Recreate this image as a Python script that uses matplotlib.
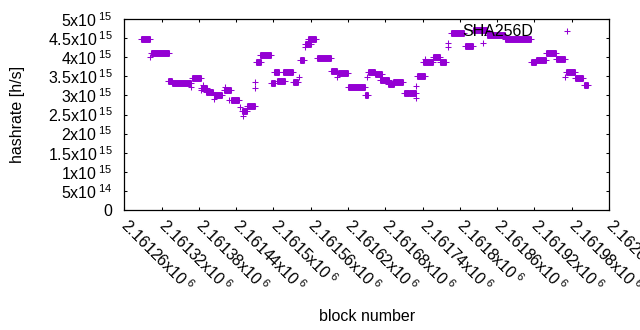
import numpy as np
import matplotlib; matplotlib.use('agg')
import matplotlib.pyplot as plt
from matplotlib.lines import Line2D

plt.rcParams['font.family'] = ['Liberation Sans', 'DejaVu Sans']
plt.rcParams['mathtext.fontset'] = 'custom'
plt.rcParams['mathtext.rm'] = 'Liberation Sans'

# runs of consecutive blocks sharing the same hashrate estimate
run_start = [2161287, 2161303, 2161330, 2161337, 2161369, 2161384, 2161391, 2161405,
             2161421, 2161432, 2161449, 2161458, 2161472, 2161478, 2161496, 2161501,
             2161505, 2161516, 2161532, 2161543, 2161551, 2161556, 2161570, 2161593,
             2161604, 2161620, 2161647, 2161653, 2161663, 2161671, 2161684, 2161692,
             2161710, 2161718, 2161731, 2161741, 2161757, 2161768, 2161786, 2161808,
             2161821, 2161843, 2161872, 2161914, 2161923, 2161938, 2161955, 2161971,
             2161986, 2162000]
run_end = [2161301, 2161332, 2161337, 2161367, 2161383, 2161393, 2161403, 2161418,
           2161432, 2161444, 2161458, 2161470, 2161480, 2161496, 2161502, 2161509,
           2161518, 2161532, 2161539, 2161549, 2161561, 2161569, 2161593, 2161603,
           2161620, 2161648, 2161653, 2161663, 2161674, 2161686, 2161694, 2161709,
           2161719, 2161729, 2161744, 2161757, 2161768, 2161778, 2161807, 2161821,
           2161843, 2161872, 2161914, 2161923, 2161938, 2161955, 2161970, 2161986,
           2161999, 2162007]
run_rate = [4.47e15, 4.10e15, 3.39e15, 3.32e15, 3.45e15, 3.20e15, 3.10e15, 3.00e15,
            3.14e15, 2.87e15, 2.59e15, 2.72e15, 3.88e15, 4.05e15, 3.32e15, 3.62e15,
            3.38e15, 3.60e15, 3.34e15, 3.93e15, 4.34e15, 4.47e15, 3.97e15, 3.64e15,
            3.58e15, 3.21e15, 3.01e15, 3.60e15, 3.55e15, 3.40e15, 3.29e15, 3.34e15,
            3.07e15, 3.05e15, 3.51e15, 3.88e15, 4.01e15, 3.88e15, 4.63e15, 4.29e15,
            4.70e15, 4.58e15, 4.47e15, 3.88e15, 3.92e15, 4.10e15, 3.95e15, 3.62e15,
            3.45e15, 3.27e15]

# single outlying blocks
pt_block = [2161302, 2161367, 2161387, 2161383, 2161405, 2161422, 2161428, 2161451,
            2161446, 2161471, 2161471, 2161534, 2161541, 2161551, 2161603, 2161651,
            2161730, 2161730, 2161744, 2161781, 2161781, 2161837, 2161970]
pt_rate = [4.00e15, 3.23e15, 3.27e15, 3.14e15, 2.91e15, 3.23e15, 2.87e15, 2.47e15,
           2.70e15, 3.35e15, 3.20e15, 3.36e15, 3.49e15, 4.26e15, 3.49e15, 3.47e15,
           3.25e15, 2.93e15, 3.95e15, 4.37e15, 4.28e15, 4.38e15, 3.49e15]

xticks = [2161260 + 60 * i for i in range(14)]
xticklabels = ['2.16126', '2.16132', '2.16138', '2.16144', '2.1615', '2.16156', '2.16162',
               '2.16168', '2.16174', '2.1618', '2.16186', '2.16192', '2.16198', '2.16204']
yticks = [0.5e15 * i for i in range(11)]
yticklabels = ['0', '5x10$\\,^{\\mathregular{14}}$'] + \
    ['%sx10$\\,^{\\mathregular{15}}$' % m for m in
     ['1', '1.5', '2', '2.5', '3', '3.5', '4', '4.5', '5']]

col = '#9400d3'
fs = 11.5

fig = plt.figure(figsize=(6.4, 3.3), dpi=100)
ax = fig.add_axes([0.1942, 0.3636, 0.7573, 0.5788])

for s, e, v in zip(run_start, run_end, run_rate):
    ax.plot([s, e], [v, v], color=col, lw=5, solid_capstyle='butt')
    ax.plot([s, e], [v, v], ls='none', marker='+', ms=5, mew=0.75, color=col)
ax.plot(pt_block, pt_rate, ls='none', marker='+', ms=5, mew=0.75, color=col)

ax.set_xlim(xticks[0], xticks[-1])
ax.set_ylim(0, 5e15)
ax.set_xticks(xticks)
ax.set_xticklabels([l + 'x10$\\,^{\\mathregular{6}}$' for l in xticklabels],
                   rotation=-45, ha='left', va='center', rotation_mode='anchor', fontsize=fs)
ax.set_yticks(yticks)
ax.set_yticklabels(yticklabels, fontsize=fs)
ax.tick_params(direction='in', top=True, right=True, length=2.5, width=0.75)
ax.tick_params(axis='x', pad=9)
ax.tick_params(axis='y', pad=8.5)
for sp in ax.spines.values():
    sp.set_linewidth(0.9)

ax.set_xlabel('block number', fontsize=fs)
ax.set_ylabel('hashrate [h/s]', fontsize=fs)
ax.xaxis.set_label_coords(0.5, -0.52)
ax.yaxis.set_label_coords(-0.205, 0.5)

h = Line2D([], [], ls='none', marker='+', ms=5, mew=0.75, color=col)
ax.legend([h], ['SHA256D'], loc='center right', bbox_to_anchor=(0.946, 0.932),
          markerfirst=False, frameon=False, fontsize=fs, borderpad=0, borderaxespad=0,
          handlelength=2, handletextpad=1.125)

fig.savefig('out.png')
